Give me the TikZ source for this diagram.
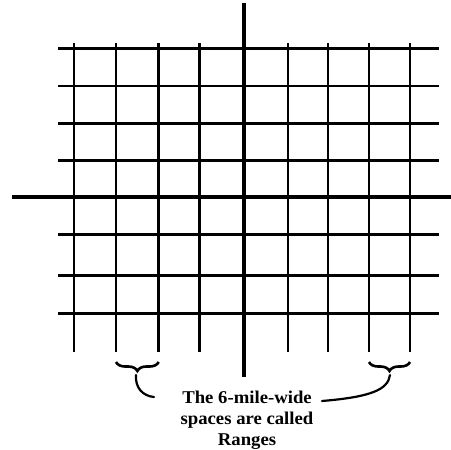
\documentclass[tikz,border=0pt]{standalone}
\usepackage{fontspec}
\setmainfont{Liberation Serif}
\usetikzlibrary{decorations.pathreplacing}
\tikzset{
  gridline/.style={line width=2.6pt},
  axisline/.style={line width=4.6pt},
  rangebrace/.style={line width=2.6pt, decorate, decoration={brace, amplitude=9pt}},
  leader/.style={line width=2.2pt, line cap=round},
  caption/.style={align=center, font=\fontsize{18}{20.8}\selectfont\bfseries\addfontfeature{FakeStretch=1.04}, inner sep=0pt}
}
\begin{document}
\begin{tikzpicture}[x=1pt,y=-1pt]
\useasboundingbox (0,0) rectangle (451,450);
% horizontal grid lines
\foreach \y in {48.3,86,123.3,160.7,234.3,275.7,313.3}
  \draw[gridline] (58,\y) -- (439,\y);
% vertical grid lines
\foreach \x in {74,116,158.7,199.3,288,328,369,410}
  \draw[gridline] (\x,43) -- (\x,352);
% axes
\draw[axisline] (12,197) -- (451,197);
\draw[axisline] (244,3) -- (244,377);
% braces
\draw[rangebrace] (158.7,362) -- (116,362);
\draw[rangebrace] (410,362) -- (369,362);
\coordinate (lb) at (136,375);
\coordinate (rb) at (390,375);
% caption
\node[caption] (t) at (247,420) {The 6-mile-wide\\spaces are called\\Ranges};
\coordinate (le) at (154,397);
\coordinate (re) at (322,401);
\draw[leader] (lb) .. controls (135,388) and (143,396) .. (le);
\draw[leader] (rb) .. controls (388,390) and (370,397) .. (re);
\end{tikzpicture}
\end{document}
